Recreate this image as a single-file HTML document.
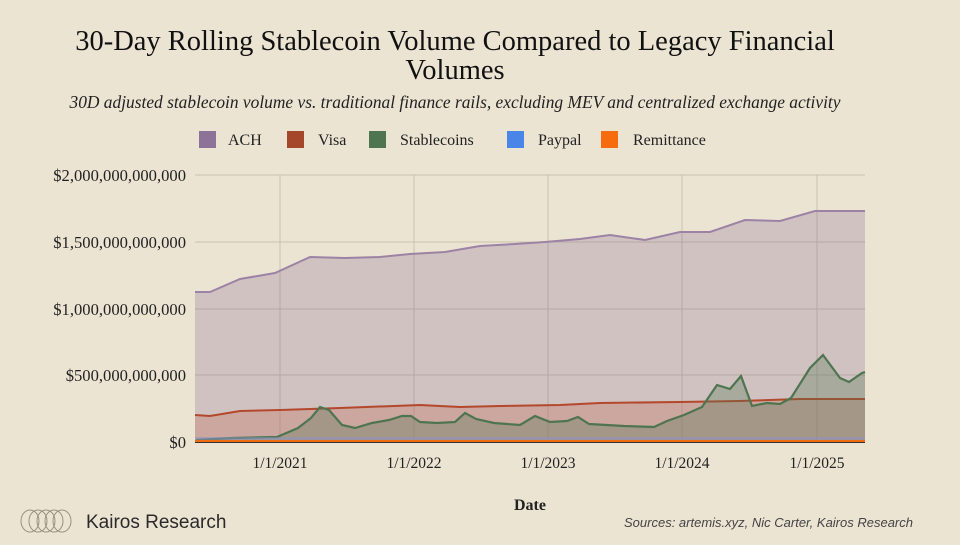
<!DOCTYPE html>
<html><head><meta charset="utf-8"><style>
body{margin:0;width:960px;height:540px;background:#ece4d3;overflow:hidden;font-family:"Liberation Serif",serif;}
</style></head><body>
<svg width="960" height="540" viewBox="0 0 960 540" xmlns="http://www.w3.org/2000/svg">
<rect width="960" height="540" fill="#ece4d3"/>
<text x="455" y="50" text-anchor="middle" font-size="28.5" fill="#111">30-Day Rolling Stablecoin Volume Compared to Legacy Financial</text>
<text x="455" y="79" text-anchor="middle" font-size="28.5" fill="#111">Volumes</text>
<text x="455" y="108" text-anchor="middle" font-size="17.4" font-style="italic" fill="#222">30D adjusted stablecoin volume vs. traditional finance rails, excluding MEV and centralized exchange activity</text>
<g font-size="16" fill="#222">
<rect x="199" y="131" width="17" height="17" fill="#8c7397"/><text x="228" y="145">ACH</text>
<rect x="287" y="131" width="17" height="17" fill="#a5472b"/><text x="318" y="145">Visa</text>
<rect x="369" y="131" width="17" height="17" fill="#4e7550"/><text x="400" y="145">Stablecoins</text>
<rect x="507" y="131" width="17" height="17" fill="#4a86e8"/><text x="538" y="145">Paypal</text>
<rect x="601" y="131" width="17" height="17" fill="#f66b0e"/><text x="633" y="145">Remittance</text>
</g>
<g stroke="#cbbfae" stroke-width="1">
<line x1="195" y1="175" x2="865" y2="175"/><line x1="195" y1="242" x2="865" y2="242"/>
<line x1="195" y1="309" x2="865" y2="309"/><line x1="195" y1="375" x2="865" y2="375"/>
<line x1="280" y1="175" x2="280" y2="442"/><line x1="414" y1="175" x2="414" y2="442"/>
<line x1="548" y1="175" x2="548" y2="442"/><line x1="682" y1="175" x2="682" y2="442"/><line x1="817" y1="175" x2="817" y2="442"/>
</g>
<g font-size="16.6" fill="#222" text-anchor="end">
<text x="186" y="181">$2,000,000,000,000</text><text x="186" y="248">$1,500,000,000,000</text>
<text x="186" y="315">$1,000,000,000,000</text><text x="186" y="381">$500,000,000,000</text><text x="186" y="448">$0</text>
</g>
<g font-size="15.5" fill="#222" text-anchor="middle">
<text x="280" y="468">1/1/2021</text><text x="414" y="468">1/1/2022</text><text x="548" y="468">1/1/2023</text><text x="682" y="468">1/1/2024</text><text x="817" y="468">1/1/2025</text>
</g>
<text x="530" y="510" text-anchor="middle" font-size="16" font-weight="bold" fill="#222">Date</text>
<polygon fill="#8c7397" fill-opacity="0.3" points="195,442 195,292 210,292 240,279 275,273 310,257 345,258 380,257 410,254 445,252 480,246 515,244 545,242 580,239 610,235 645,240 680,232 710,232 745,220 780,221 815,211 865,211 865,442"/>
<polyline fill="none" stroke="#9c83a5" stroke-width="2" points="195,292 210,292 240,279 275,273 310,257 345,258 380,257 410,254 445,252 480,246 515,244 545,242 580,239 610,235 645,240 680,232 710,232 745,220 780,221 815,211 865,211"/>
<polygon fill="#c0573a" fill-opacity="0.25" points="195,442 195,415 210,416 240,411 280,410 340,408 420,405 460,407 500,406 560,405 600,403 680,402 740,401 800,399 865,399 865,442"/>
<polyline fill="none" stroke="#b4482c" stroke-width="2" points="195,415 210,416 240,411 280,410 340,408 420,405 460,407 500,406 560,405 600,403 680,402 740,401 800,399 865,399"/>
<polygon fill="#4e7550" fill-opacity="0.3" points="196,442 196,440 233,438 277,437 298,428 311,418 320,407 329,410 342,425 355,428 372,423 389,420 402,416 411,416 420,422 437,423 455,422 465,413 476,419 494,423 520,425 535,416 550,422 567,421 578,417 589,424 624,426 654,427 667,421 684,415 702,407 717,385 730,389 741,376 752,406 767,403 780,404 791,398 810,368 823,355 840,378 849,382 862,373 865,372 865,442"/>
<polyline fill="none" stroke="#4e7550" stroke-width="2.2" points="196,440 233,438 277,437 298,428 311,418 320,407 329,410 342,425 355,428 372,423 389,420 402,416 411,416 420,422 437,423 455,422 465,413 476,419 494,423 520,425 535,416 550,422 567,421 578,417 589,424 624,426 654,427 667,421 684,415 702,407 717,385 730,389 741,376 752,406 767,403 780,404 791,398 810,368 823,355 840,378 849,382 862,373 865,372"/>
<rect x="195" y="437" width="670" height="3" fill="#8a92c8" fill-opacity="0.5"/>
<line x1="195" y1="441" x2="865" y2="441" stroke="#f06a10" stroke-width="2"/>
<line x1="195" y1="442.5" x2="865" y2="442.5" stroke="#333" stroke-width="1"/>
<g fill="none" stroke="#9a9080" stroke-width="1">
<ellipse cx="30" cy="521" rx="9" ry="11"/><ellipse cx="38" cy="521" rx="9" ry="11"/><ellipse cx="46" cy="521" rx="9" ry="11"/><ellipse cx="54" cy="521" rx="9" ry="11"/><ellipse cx="62" cy="521" rx="9" ry="11"/>
</g>
<text x="86" y="528" font-family="Liberation Sans, sans-serif" font-size="19" fill="#2a2a2a">Kairos Research</text>
<text x="913" y="527" text-anchor="end" font-family="Liberation Sans, sans-serif" font-style="italic" font-size="13" fill="#444">Sources: artemis.xyz, Nic Carter, Kairos Research</text>
</svg>
</body></html>
